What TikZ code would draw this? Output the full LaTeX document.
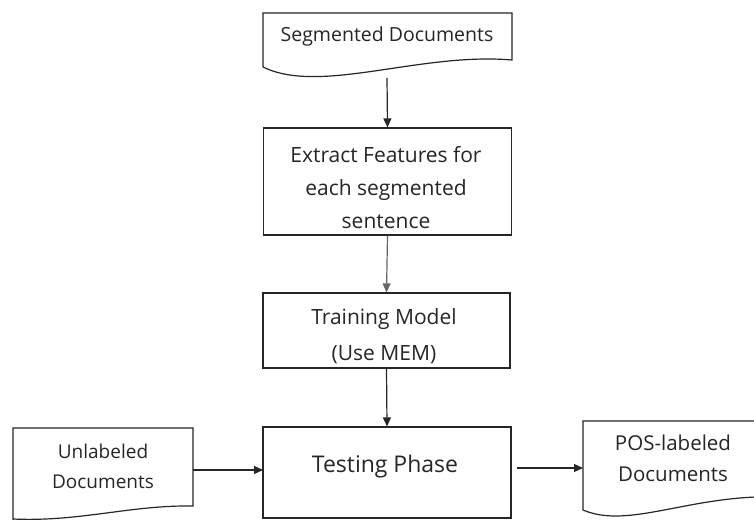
\documentclass[tikz,border=0pt]{standalone}
\usepackage{fontspec}
\setmainfont{Open Sans}
\usetikzlibrary{arrows.meta}
\begin{document}
\begin{tikzpicture}[x=1pt,y=-1pt,
  shapeline/.style={draw=black!85, line width=1.2pt},
  box/.style={shapeline, fill=white, inner sep=0pt, align=center},
  lbl/.style={inner sep=0pt, align=center, text=black!85},
  conn/.style={line width=1.2pt, draw=black!85, -{Triangle[length=9pt,width=8pt]}}]
\useasboundingbox (0,0) rectangle (754,519);
\fill[white] (0,0) rectangle (754,519);

% Segmented Documents (document shape)
\draw[shapeline] (263,67) -- (263,13) -- (512,13) -- (512,60)
  .. controls (420,52) and (320,95) .. (263,67);
\node[lbl, font=\fontsize{19.5}{30}\selectfont] (segtext) at (387,36) {Segmented Documents};
\coordinate (segbot) at (387,78);

% Extract features
\node[box, minimum width=248pt, minimum height=107pt] (extract) at (387.5,181.5) {};
\node[lbl, font=\fontsize{21}{33}\selectfont] (extracttext) at (386,188) {Extract Features for\\each segmented\\sentence};

% Training model
\node[box, minimum width=247pt, minimum height=75pt] (train) at (386.5,330.5) {};
\node[lbl, font=\fontsize{21}{36}\selectfont] (traintext) at (384,336) {Training Model\\(Use MEM)};

% Testing phase
\node[box, minimum width=248pt, minimum height=91pt] (test) at (387,472.5) {};
\node[lbl, font=\fontsize{23}{30}\selectfont] (testtext) at (385,467) {Testing Phase};

% Unlabeled Documents
\draw[shapeline] (13,521) -- (13,428) -- (193,428) -- (193,506)
  .. controls (130,505) and (80,522) .. (13,519);
\node[lbl, font=\fontsize{19}{30}\selectfont] (unltext) at (103,466) {Unlabeled\\Documents};
\coordinate (unlright) at (193,470);
\coordinate (testleft) at (263,470);

% POS-labeled Documents
\draw[shapeline] (756,421) -- (583,421) -- (583,510)
  .. controls (625,528) and (680,500) .. (756,497);
\node[lbl, font=\fontsize{20.5}{31}\selectfont] (postext) at (673,458) {POS-labeled\\Documents};
\coordinate (testout) at (517,468);
\coordinate (posleft) at (583,468);

% connectors
\draw[conn] (segbot) -- (extract.north);
\draw[conn, draw=black!60] (extract.south) -- (train.north);
\draw[conn] (train.south) -- (test.north);
\draw[conn] (unlright) -- (testleft);
\draw[conn] (testout) -- (posleft);
\end{tikzpicture}
\end{document}
